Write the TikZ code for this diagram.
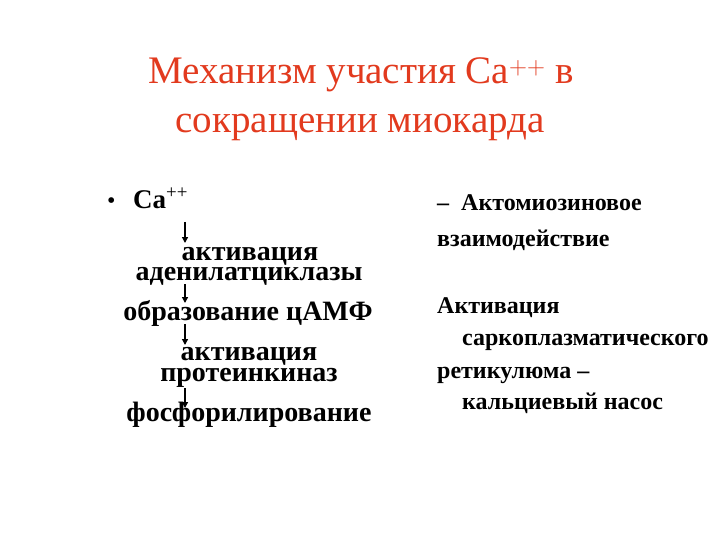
\documentclass[tikz,border=0pt]{standalone}
\usepackage{fontspec}
\setmainfont{Liberation Serif}
\usetikzlibrary{arrows.meta}
\definecolor{titlered}{RGB}{226,58,30}
\begin{document}
\begin{tikzpicture}[x=1pt,y=-1pt,
  ttl/.style={anchor=base,text=titlered,font=\fontsize{39}{39}\selectfont,inner sep=0},
  lt/.style={anchor=base,font=\bfseries\fontsize{28}{28}\selectfont,inner sep=0},
  rt/.style={anchor=base west,font=\bfseries\fontsize{24}{24}\selectfont,inner sep=0},
  arr/.style={-{Triangle[length=6pt,width=6pt]},line width=1.3pt}]
\useasboundingbox (0,0) rectangle (720,540);
\fill[white] (0,0) rectangle (720,540);
\node[ttl] (t1) at (361,84) {Механизм участия Ca$^{\mathrm{++}}$ в};
\node[ttl] (t2) at (360,133) {сокращении миокарда};
\node[anchor=base west,inner sep=0,font=\fontsize{24}{24}\selectfont] (bul) at (107,208) {•};
\node[anchor=base west,inner sep=0,font=\bfseries\fontsize{27}{27}\selectfont] (ca) at (133,208) {Ca\textsuperscript{\mdseries ++}};
\node[lt] (a1) at (250,260) {активация};
\node[lt] (a2) at (249,280) {аденилатциклазы};
\node[lt] (b) at (248,320) {образование цАМФ};
\node[lt] (c1) at (249,360) {активация};
\node[lt] (c2) at (249,381) {протеинкиназ};
\node[lt] (d) at (249,421) {фосфорилирование};
\coordinate (s1) at (185,222); \coordinate (e1) at (185,243);
\coordinate (s2) at (185,284); \coordinate (e2) at (185,303);
\coordinate (s3) at (185,324); \coordinate (e3) at (185,345);
\coordinate (s4) at (185,388); \coordinate (e4) at (185,408);
\draw[arr] (s1) -- (e1);
\draw[arr] (s2) -- (e2);
\draw[arr] (s3) -- (e3);
\draw[arr] (s4) -- (e4);
\node[rt] (r1) at (437,211) {–\ \ Актомиозиновое};
\node[rt] (r2) at (437,246) {взаимодействие};
\node[rt] (r3) at (437,313) {Активация};
\node[rt] (r4) at (462,345) {саркоплазматического};
\node[rt] (r5) at (437,378) {ретикулюма –};
\node[rt] (r6) at (462,409) {кальциевый насос};
\end{tikzpicture}
\end{document}
